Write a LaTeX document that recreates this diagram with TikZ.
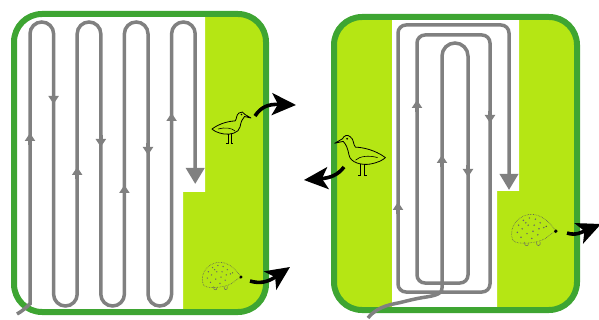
\documentclass[tikz,border=0pt]{standalone}
\usetikzlibrary{arrows.meta}
\definecolor{fieldgreen}{RGB}{181,230,20}
\definecolor{edgegreen}{RGB}{62,165,50}
\definecolor{trackgray}{RGB}{128,128,128}

\tikzset{
  border/.style={draw=edgegreen, line width=6pt, rounded corners=28pt},
  track/.style={draw=trackgray, line width=3.5pt, rounded corners=11.8pt},
  endtip/.style={-{Triangle[length=16pt,width=18pt]}},
  midtip/.style={draw=trackgray, line width=3.5pt, -{Triangle[length=8pt,width=10pt]}},
  escape/.style={draw=black, line width=3.6pt, -{Stealth[length=24pt,width=22pt,inset=6pt]}},
  % shorebird, facing right
  bird/.pic={
    \draw[line width=0.8pt, line join=round]
      (-18,2) .. controls (-10,-4) and (0,-6) .. (5,-6)
      .. controls (7,-8) and (6,-12) .. (9,-14)
      .. controls (11,-16) and (14,-15) .. (15,-12.5)
      -- (21,-9) -- (14.5,-10.5)
      .. controls (12,-8) and (11,-5) .. (10,0)
      .. controls (9,6) and (0,8) .. (-6,7)
      .. controls (-12,6) and (-16,4) .. (-18,2) -- cycle;
    \draw[line width=0.6pt] (-12,2) .. controls (-5,0) and (2,1) .. (5,4);
    \draw[line width=0.8pt] (-2,7) -- (-2,16) -- (-4,16) (1,7) -- (1,16) -- (3,16);
    \fill (11.5,-12.5) circle (0.8);
  },
  % hedgehog, facing right
  hedgehog/.pic={
    \draw[densely dotted, line width=0.6pt, black!65]
      (-17,8) .. controls (-21,-4) and (-10,-14) .. (0,-13)
      .. controls (9,-12) and (15,-5) .. (19,1)
      -- (14,4) .. controls (10,9) and (0,11) .. (-8,11)
      .. controls (-13,11) and (-16,10) .. (-17,8);
    \foreach \p in {(-12,-4),(-8,-8),(-3,-10),(2,-9),(6,-6),(-13,2),(-9,-1),(-4,-4),
                    (1,-4),(5,-1),(-10,6),(-5,3),(0,1),(4,4),(-1,7),(9,-2),(-6,-6)}
      \fill[black!60] \p circle (0.7);
    \fill (19,1) circle (1.6);
    \fill[black!70] (11,-3) circle (0.6);
    \draw[black!60, line width=0.5pt]
      (-7,10) .. controls (-8,14) and (-3,14) .. (-4,11)
      (3,10) .. controls (2,14) and (7,14) .. (6,10);
  }
}

\begin{document}
\begin{tikzpicture}[x=1pt, y=-1pt]
\useasboundingbox (0,0) rectangle (599,320);

% left field: headland sown last on the right
\begin{scope}
  \clip[rounded corners=28pt] (14,14) rectangle (266,312);
  \fill[fieldgreen] (0,0) rectangle (300,320);
  \fill[white] (0,0) -- (205,0) -- (205,192) -- (183,192) -- (183,320) -- (0,320) -- cycle;
\end{scope}
\draw[border] (14,14) rectangle (266,312);

% right field: strips left at both sides
\begin{scope}
  \clip[rounded corners=28pt] (334,17) rectangle (577,310);
  \fill[fieldgreen] (320,0) rectangle (599,320);
  \fill[white] (392,0) -- (519,0) -- (519,191) -- (497,191) -- (497,320) -- (392,320) -- cycle;
\end{scope}
\draw[border] (334,17) rectangle (577,310);

% back and forth mowing
\draw[track, endtip] (17,314) .. controls (26,309) and (30,303) .. (30,292)
  -- (30,22) -- (53.6,22) -- (53.6,306) -- (77.2,306) -- (77.2,22)
  -- (100.8,22) -- (100.8,306) -- (124.4,306) -- (124.4,22)
  -- (148,22) -- (148,306) -- (171.6,306) -- (171.6,22)
  -- (195.2,22) -- (195.2,184);
\foreach \x/\ya/\yb in {30/145/133, 53.6/92/104, 77.2/179/167, 100.8/135/147,
                         124.4/197/185, 148/143/155, 171.6/125/113}
  \draw[midtip] (\x,\ya) -- (\x,\yb);

% mowing from the centre outwards
\draw[track, rounded corners=8pt, endtip] (368,318)
  .. controls (378,305) and (395,304) .. (410,300)
  .. controls (430,296) and (442,296) .. (442,280)
  [rounded corners=13pt] -- (442,43) -- (468,43)
  [rounded corners=8pt] -- (468,283) -- (417,283) -- (417,35) -- (490,35)
  -- (490,292) -- (398,292) -- (398,25) -- (509,25) -- (509,190);
\foreach \x/\ya/\yb in {442/167/155, 468/165/177, 417/112/100, 490/111/123, 398/214/202}
  \draw[midtip] (\x,\ya) -- (\x,\yb);

% animals
\pic at (230,127) {bird};
\pic[scale=1.3, xscale=-1] at (362,155) {bird};
\pic[scale=1.05] at (221,276) {hedgehog};
\pic[scale=1.2] at (533,230) {hedgehog};

% escape routes
\coordinate (birdL) at (255,116);
\coordinate (birdLout) at (296,105);
\coordinate (hogL) at (250,281);
\coordinate (hogLout) at (290,267);
\coordinate (birdR) at (344,167);
\coordinate (birdRout) at (304,180);
\coordinate (hogR) at (567,233);
\coordinate (hogRout) at (601,224);
\draw[escape] (birdL) .. controls (261,107) and (268,104) .. (birdLout);
\draw[escape] (hogL) .. controls (260,284) and (268,282) .. (hogLout);
\draw[escape] (birdR) .. controls (338,175) and (330,178) .. (birdRout);
\draw[escape] (hogR) .. controls (576,236) and (582,232) .. (hogRout);
\end{tikzpicture}
\end{document}
